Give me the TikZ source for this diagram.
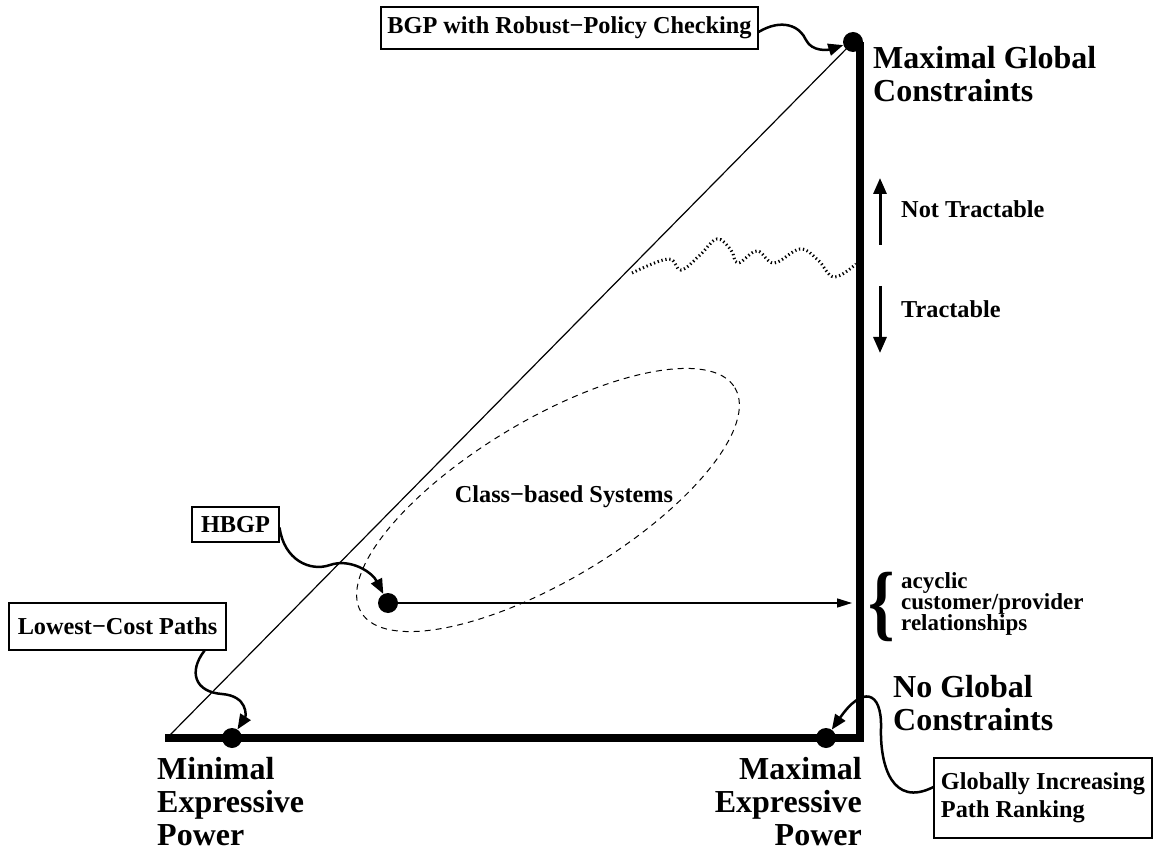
\documentclass[tikz,border=0pt]{standalone}
\usepackage{fontspec}
\setmainfont{Liberation Serif}
\usetikzlibrary{arrows.meta}
\begin{document}
\begin{tikzpicture}[x=1pt,y=-1pt,
  big/.style={font=\fontsize{32}{33}\selectfont\bfseries, inner sep=0pt},
  lbl/.style={font=\fontsize{24.3}{28}\selectfont\bfseries, inner sep=0pt},
  box/.style={draw, line width=1.1pt, lbl},
  dot/.style={circle, fill, inner sep=0pt, minimum size=20pt},
  axis/.style={line width=8.5pt, line join=miter},
  pointer/.style={line width=2.5pt, -{Triangle[length=15pt,width=12pt]}},
  tract/.style={line width=3pt, -{Triangle[length=16pt,width=13pt]}},
]
\useasboundingbox (0,0) rectangle (1154,850);

% axes
\coordinate (orig) at (169,736);
\coordinate (cornerL) at (165,738);
\coordinate (corner) at (860,738);
\coordinate (ctop) at (860,42);
\draw[axis] (cornerL) -- (corner) -- (ctop);

% dots
\node[dot] (top) at (853,42) {};
\node[dot] (lc) at (232,738) {};
\node[dot] (gi) at (826,738) {};
\node[dot] (hb) at (388,603) {};

% diagonal
\draw[line width=1.2pt] (orig) -- (top.center);

% class-based ellipse
\draw[line width=1pt, dash pattern=on 6pt off 5pt, rotate around={31:(548,500)}] (548,500) ellipse [x radius=218, y radius=80];
\node[lbl, anchor=base] (cls) at (564,502) {Class−based Systems};

% horizontal arrow
\coordinate (acy) at (852,603);
\draw[line width=1.5pt, -{Triangle[length=15pt,width=9pt]}] (hb) -- (acy);

% wavy boundary
\draw[line width=3pt, dash pattern=on 1.3pt off 2.7pt] plot[smooth, tension=0.65] coordinates {(632,273) (668,259) (681,270) (700,255) (717,239) (731,250) (738,263) (757,251) (774,263) (800,249) (818,260) (834,277) (856,264)};

% tractability arrows
\coordinate (nt0) at (880,245);
\coordinate (nt1) at (880,178);
\coordinate (tr0) at (880,286);
\coordinate (tr1) at (880,353);
\draw[tract] (nt0) -- (nt1);
\draw[tract] (tr0) -- (tr1);
\node[lbl, anchor=base west] (ntl) at (901,218) {Not Tractable};
\node[lbl, anchor=base west] (trl) at (901,318) {Tractable};

% big labels (base anchor = last line's baseline)
\node[big, anchor=base west, align=left] (mgc) at (873,102) {Maximal Global\\Constraints};
\node[big, anchor=base west, align=left] (ngc) at (893,730) {No Global\\Constraints};
\node[big, anchor=base west, align=left] (mep) at (157,845) {Minimal\\Expressive\\Power};
\node[big, anchor=base east, align=right] (xep) at (862,845) {Maximal\\Expressive\\Power};

% brace + acyclic text
\node[inner sep=0pt] (brace) at (882,607) {\scalebox{0.8}[1]{\fontsize{84}{84}\selectfont\bfseries\{}};
\node[anchor=base west, align=left, inner sep=0pt, font=\fontsize{23}{21}\selectfont\bfseries] (acyt) at (901,630) {acyclic\\customer/provider\\relationships};

% boxes
\node[box, minimum width=377pt, minimum height=42pt] (bgp) at (569.5,28) {BGP with Robust−Policy Checking};
\node[box, minimum width=87pt, minimum height=35pt] (hbgp) at (235.5,524.5) {HBGP};
\node[box, minimum width=217pt, minimum height=47pt] (lcp) at (117.5,626.5) {Lowest−Cost Paths};
\node[box, minimum width=218pt, minimum height=80pt, align=left, inner xsep=6pt] (gipr) at (1043,798) {Globally Increasing\\Path Ranking};

% pointers
\draw[pointer] ([yshift=-4pt]bgp.east) .. controls (782,18) and (800,26) .. (806,40) .. controls (812,52) and (828,50) .. (top);
\draw[pointer] ([yshift=-3pt]hbgp.east) .. controls (284,560) and (310,572) .. (330,565) .. controls (350,558) and (372,572) .. (hb);
\draw[pointer] ([xshift=-22pt]lcp.south east) .. controls (188,672) and (195,692) .. (222,694) .. controls (248,696) and (246,716) .. (lc);
\draw[pointer] ([yshift=11pt]gipr.west) .. controls (892,808) and (880,765) .. (881,728) .. controls (882,690) and (862,686) .. (gi);
\end{tikzpicture}
\end{document}
